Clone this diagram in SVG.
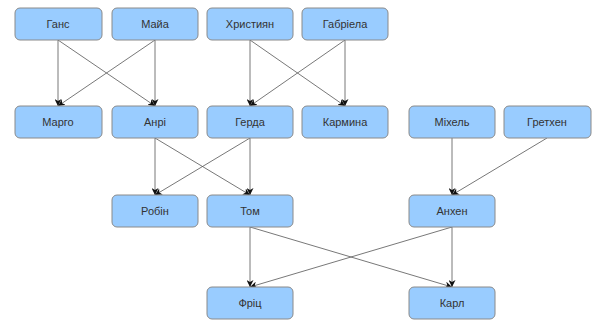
<svg xmlns="http://www.w3.org/2000/svg" width="595" height="324" viewBox="0 0 595 324">
<style>
.n rect{fill:#99ccff;stroke:#8a8a8a;stroke-width:1}
.n text{font-family:"Liberation Sans","DejaVu Sans",sans-serif;font-size:11px;fill:#333;text-anchor:middle}
.e line{stroke:#555;stroke-width:0.8;marker-end:url(#a)}
</style>
<defs>
<marker id="a" viewBox="0 0 10 10" refX="10" refY="5" markerWidth="7" markerHeight="7" markerUnits="userSpaceOnUse" orient="auto">
<path d="M0,0 L10,5 L0,10 L3,5 z" fill="#111"/>
</marker>
</defs>
<rect width="595" height="324" fill="#fff"/>
<g class="e" id="edges">
<line x1="58" y1="40" x2="58" y2="106"/>
<line x1="58" y1="40" x2="155" y2="106"/>
<line x1="155" y1="40" x2="58" y2="106"/>
<line x1="155" y1="40" x2="155" y2="106"/>
<line x1="250" y1="40" x2="250" y2="106"/>
<line x1="250" y1="40" x2="345" y2="106"/>
<line x1="345" y1="40" x2="250" y2="106"/>
<line x1="345" y1="40" x2="345" y2="106"/>
<line x1="155" y1="138" x2="155" y2="195"/>
<line x1="155" y1="138" x2="250" y2="195"/>
<line x1="250" y1="138" x2="155" y2="195"/>
<line x1="250" y1="138" x2="250" y2="195"/>
<line x1="452" y1="138" x2="452" y2="195"/>
<line x1="547" y1="138" x2="452" y2="195"/>
<line x1="250" y1="227" x2="250" y2="287"/>
<line x1="250" y1="227" x2="452" y2="287"/>
<line x1="452" y1="227" x2="250" y2="287"/>
<line x1="452" y1="227" x2="452" y2="287"/>
</g>
<g class="n" id="hans"><rect x="15" y="8" width="87" height="32" rx="5"/><text x="58" y="28">Ганс</text></g>
<g class="n" id="maia"><rect x="112" y="8" width="86" height="32" rx="5"/><text x="155" y="28">Майа</text></g>
<g class="n" id="christian"><rect x="207" y="8" width="86" height="32" rx="5"/><text x="250" y="28">Християн</text></g>
<g class="n" id="gabriela"><rect x="302" y="8" width="86" height="32" rx="5"/><text x="345" y="28">Габріела</text></g>
<g class="n" id="margo"><rect x="15" y="106" width="87" height="32" rx="5"/><text x="58" y="126">Марго</text></g>
<g class="n" id="henri"><rect x="112" y="106" width="86" height="32" rx="5"/><text x="155" y="126">Анрі</text></g>
<g class="n" id="gerda"><rect x="207" y="106" width="86" height="32" rx="5"/><text x="250" y="126">Герда</text></g>
<g class="n" id="carmina"><rect x="302" y="106" width="86" height="32" rx="5"/><text x="345" y="126">Кармина</text></g>
<g class="n" id="michel"><rect x="409" y="106" width="86" height="32" rx="5"/><text x="452" y="126">Міхель</text></g>
<g class="n" id="gretchen"><rect x="504" y="106" width="87" height="32" rx="5"/><text x="547" y="126">Гретхен</text></g>
<g class="n" id="robin"><rect x="112" y="195" width="86" height="32" rx="5"/><text x="155" y="215">Робін</text></g>
<g class="n" id="tom"><rect x="207" y="195" width="86" height="32" rx="5"/><text x="250" y="215">Том</text></g>
<g class="n" id="anchen"><rect x="409" y="195" width="86" height="32" rx="5"/><text x="452" y="215">Анхен</text></g>
<g class="n" id="fritz"><rect x="207" y="287" width="86" height="32" rx="5"/><text x="250" y="307">Фріц</text></g>
<g class="n" id="karl"><rect x="409" y="287" width="86" height="32" rx="5"/><text x="452" y="307">Карл</text></g>
</svg>
